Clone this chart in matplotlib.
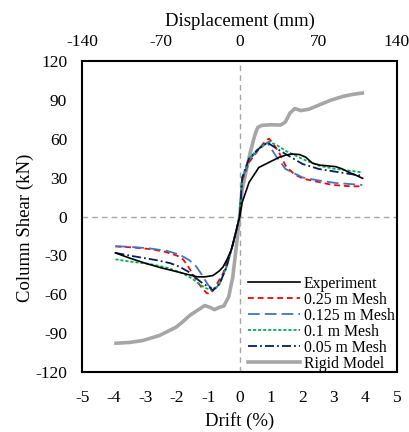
import matplotlib
matplotlib.use("Agg")
import matplotlib.pyplot as plt

plt.rcParams['font.family'] = ['Liberation Serif', 'DejaVu Serif']
plt.rcParams['axes.unicode_minus'] = False

# ---- data (drift %, shear kN) ----
exp_drift = [-3.95, -3.5, -3.0, -2.5, -2.0, -1.6, -1.35, -1.1, -0.85, -0.65, -0.53, -0.4, -0.27, -0.11, 0,
             0.08, 0.3, 0.61, 0.93, 1.25, 1.5, 1.68, 1.9, 2.1, 2.31, 2.55, 2.74, 3.06, 3.25, 3.48, 3.7, 3.91]
exp_shear = [-28, -32, -36, -39.5, -42.5, -45, -46.5, -46.5, -45.5, -42, -39, -33, -26, -11, 0,
             11, 26.5, 38, 41.9, 45.8, 47.8, 48.4, 48, 46, 41.4, 39.8, 39.4, 38.6, 37, 34.2, 32, 29.6]

m25_drift = [-3.95, -3.4, -2.87, -2.4, -2.0, -1.8, -1.65, -1.5, -1.35, -1.2, -1.05, -0.95, -0.85, -0.7, -0.53,
             -0.37, -0.21, -0.1, 0, 0.04, 0.08, 0.3, 0.61, 0.8, 0.93, 1.05, 1.25, 1.46, 1.73, 2.0, 2.31,
             2.95, 3.5, 3.9]
m25_shear = [-23, -23.8, -25, -27, -30, -33, -38, -44, -50, -55, -59, -59.8, -57, -51, -44,
             -33, -21, -10, 0, 15, 28, 42, 52, 58, 60.3, 57, 49.6, 39.4, 32.9, 29.5, 27.8,
             24.5, 23.5, 23.4]

m125_drift = [-3.95, -3.4, -2.87, -2.3, -1.9, -1.6, -1.38, -1.2, -1.0, -0.9, -0.8, -0.64, -0.42, -0.21, 0,
              0.04, 0.08, 0.3, 0.61, 0.88, 1.15, 1.46, 2.0, 2.5, 3.06, 3.9]
m125_shear = [-22.8, -23.5, -24.5, -26.5, -29.5, -33.6, -38.5, -45, -52.9, -55, -56.5, -51.9, -39, -21, 0,
              15, 28, 44, 52, 57.3, 47, 36.8, 30.3, 28, 26, 24.5]

m10_drift = [-3.95, -3.4, -2.87, -2.3, -1.81, -1.5, -1.27, -1.05, -0.85, -0.64, -0.42, -0.21, 0,
             0.04, 0.08, 0.3, 0.61, 0.93, 1.2, 1.46, 2.0, 2.52, 3.0, 3.5, 3.9]
m10_shear = [-33, -35, -36.5, -39.5, -43.8, -48, -52.5, -55.5, -57, -52, -39, -21, 0,
             15, 30, 45, 53, 58, 55, 50.9, 44.5, 39.4, 37, 35.5, 34.2]

m05_drift = [-3.95, -3.4, -2.65, -2.2, -1.91, -1.6, -1.38, -1.15, -0.96, -0.85, -0.64, -0.42, -0.21, 0,
             0.04, 0.08, 0.3, 0.61, 0.88, 1.15, 1.46, 2.0, 2.52, 3.06, 3.5, 3.9]
m05_shear = [-28, -30.5, -33.6, -36, -38.7, -43, -47.7, -52, -54.6, -57, -52, -39, -21, 0,
             15, 30, 45, 52.5, 57.3, 53, 48.4, 40.7, 36.8, 34.7, 33, 31.6]

rig_drift = [-3.93, -3.5, -3.08, -2.55, -2.02, -1.8, -1.59, -1.35, -1.11, -0.95, -0.8, -0.64, -0.5, -0.35,
             -0.22, -0.11, 0, 0.08, 0.32, 0.45, 0.51, 0.58, 0.7, 1.0, 1.3, 1.45, 1.6, 1.75, 1.95, 2.2,
             2.5, 2.9, 3.3, 3.6, 3.9]
rig_shear = [-97.8, -97.2, -95.7, -91.8, -85.4, -81, -76.4, -72.5, -68.7, -70, -71.8, -70, -69, -62,
             -47, -24, 0, 21, 48, 60, 65, 69, 70.5, 71, 70.8, 73, 80, 83.5, 82, 83,
             86, 90, 93, 94.5, 95.5]

x_ticks = [-5, -4, -3, -2, -1, 0, 1, 2, 3, 4, 5]
y_ticks = [-120, -90, -60, -30, 0, 30, 60, 90, 120]
top_ticks = [-140, -70, 0, 70, 140]
mm_per_pct = 28.0

fig = plt.figure(figsize=(4.10, 4.32), dpi=100)
ax = fig.add_axes([0.201, 0.139, 0.767, 0.719])

ax.axhline(0, color='#a6a6a6', lw=1.0, ls=(0, (4, 3)), zorder=1)
ax.axvline(0, color='#a6a6a6', lw=1.0, ls=(0, (4, 3)), zorder=1)

ax.plot(exp_drift, exp_shear, color='black', lw=1.2, label='Experiment', zorder=5)
ax.plot(m25_drift, m25_shear, color='#ff0000', lw=1.3, ls=(0, (3.2, 2.2)), label='0.25 m Mesh', zorder=4)
ax.plot(m125_drift, m125_shear, color='#4472c4', lw=1.3, ls=(0, (6.5, 2.8)), label='0.125 m Mesh', zorder=4)
ax.plot(m10_drift, m10_shear, color='#00b050', lw=1.3, ls=(0, (1.7, 1.1)), label='0.1 m Mesh', zorder=4)
ax.plot(m05_drift, m05_shear, color='#002060', lw=1.3, ls=(0, (5, 1.7, 1, 1.7)), label='0.05 m Mesh', zorder=4)
ax.plot(rig_drift, rig_shear, color='#a6a6a6', lw=2.6, label='Rigid Model', zorder=3)

ax.set_xlim(-5, 5)
ax.set_ylim(-120, 120)
ax.set_xticks(x_ticks)
ax.set_yticks(y_ticks)
ax.tick_params(axis='x', length=0, labelsize=12.5, pad=13)
ax.tick_params(axis='y', length=0, labelsize=12.5, pad=11)
for s in ax.spines.values():
    s.set_linewidth(1.5)

ax.set_xlabel('Drift (%)', fontsize=13.5, labelpad=4)
fig.text(25 / 410, 1 - 227.5 / 432, 'Column Shear (kN)', fontsize=13.5,
         rotation=90, ha='center', va='center')

sec = ax.secondary_xaxis('top', functions=(lambda x: x * mm_per_pct, lambda x: x / mm_per_pct))
sec.set_xticks(top_ticks)
sec.tick_params(length=0, labelsize=12.5, pad=8)
sec.spines['top'].set_visible(False)
sec.set_xlabel('Displacement (mm)', fontsize=13.5, labelpad=6)

leg = ax.legend(loc='lower left', bbox_to_anchor=(0.515, -0.01), frameon=False,
                fontsize=11.3, handlelength=3.35, handletextpad=0.25, labelspacing=0.0,
                borderpad=0.2, borderaxespad=0)

fig.savefig('out.png', dpi=100)
